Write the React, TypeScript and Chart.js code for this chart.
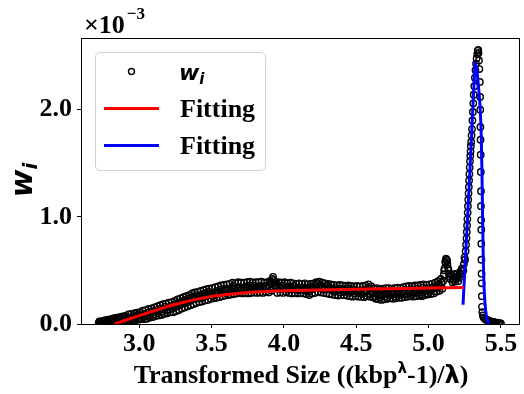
import React, { useEffect, useRef } from "react";
import { Chart, registerables } from "chart.js";

Chart.register(...registerables);

// ---- data (w_i values in units of 1e-3) ----
const bulkX = [
  2.72, 2.73, 2.74, 2.75, 2.76, 2.77, 2.78, 2.79, 2.8, 2.81,
  2.82, 2.83, 2.84, 2.85, 2.86, 2.87, 2.88, 2.89, 2.9, 2.91,
  2.92, 2.93, 2.94, 2.95, 2.96, 2.97, 2.98, 2.99, 3.0, 3.01,
  3.02, 3.03, 3.04, 3.05, 3.06, 3.07, 3.08, 3.09, 3.1, 3.11,
  3.12, 3.13, 3.14, 3.15, 3.16, 3.17, 3.18, 3.19, 3.2, 3.21,
  3.22, 3.23, 3.24, 3.25, 3.26, 3.27, 3.28, 3.29, 3.3, 3.31,
  3.32, 3.33, 3.34, 3.35, 3.36, 3.37, 3.38, 3.39, 3.4, 3.41,
  3.42, 3.43, 3.44, 3.45, 3.46, 3.47, 3.48, 3.49, 3.5, 3.51,
  3.52, 3.53, 3.54, 3.55, 3.56, 3.57, 3.58, 3.59, 3.6, 3.61,
  3.62, 3.63, 3.64, 3.65, 3.66, 3.67, 3.68, 3.69, 3.7, 3.71,
  3.72, 3.73, 3.74, 3.75, 3.76, 3.77, 3.78, 3.79, 3.8, 3.81,
  3.82, 3.83, 3.84, 3.85, 3.86, 3.87, 3.88, 3.89, 3.9, 3.91,
  3.92, 3.93, 3.94, 3.95, 3.96, 3.97, 3.98, 3.99, 4.0, 4.01,
  4.02, 4.03, 4.04, 4.05, 4.06, 4.07, 4.08, 4.09, 4.1, 4.11,
  4.12, 4.13, 4.14, 4.15, 4.16, 4.17, 4.18, 4.19, 4.2, 4.21,
  4.22, 4.23, 4.24, 4.25, 4.26, 4.27, 4.28, 4.29, 4.3, 4.31,
  4.32, 4.33, 4.34, 4.35, 4.36, 4.37, 4.38, 4.39, 4.4, 4.41,
  4.42, 4.43, 4.44, 4.45, 4.46, 4.47, 4.48, 4.49, 4.5, 4.51,
  4.52, 4.53, 4.54, 4.55, 4.56, 4.57, 4.58, 4.59, 4.6, 4.61,
  4.62, 4.63, 4.64, 4.65, 4.66, 4.67, 4.68, 4.69, 4.7, 4.71,
  4.72, 4.73, 4.74, 4.75, 4.76, 4.77, 4.78, 4.79, 4.8, 4.81,
  4.82, 4.83, 4.84, 4.85, 4.86, 4.87, 4.88, 4.89, 4.9, 4.91,
  4.92, 4.93, 4.94, 4.95, 4.96, 4.97, 4.98, 4.99, 5.0, 5.01,
  5.02, 5.03, 5.04, 5.05, 5.06, 5.07, 5.08, 5.09, 5.1,
  5.105, 5.11, 5.115, 5.12, 5.125, 5.13, 5.135, 5.14, 5.145,
  5.15, 5.16, 5.17, 5.18, 5.19, 5.2, 5.21, 5.22, 5.23,
];
const bulkY = [
  0.01, 0.015, 0.005, 0.02, 0.025, 0.012, 0.03, 0.022, 0.035, 0.028,
  0.04, 0.025, 0.045, 0.032, 0.05, 0.03, 0.042, 0.055, 0.035, 0.05,
  0.06, 0.04, 0.065, 0.048, 0.075, 0.052, 0.07, 0.085, 0.055, 0.078,
  0.09, 0.065, 0.095, 0.08, 0.105, 0.075, 0.1, 0.12, 0.09, 0.115,
  0.13, 0.1, 0.125, 0.145, 0.115, 0.14, 0.16, 0.125, 0.155, 0.135,
  0.17, 0.145, 0.18, 0.16, 0.195, 0.17, 0.205, 0.185, 0.215, 0.19,
  0.225, 0.2, 0.24, 0.215, 0.25, 0.23, 0.26, 0.235, 0.27, 0.245,
  0.265, 0.24, 0.28, 0.255, 0.29, 0.265, 0.3, 0.27, 0.285, 0.26,
  0.295, 0.275, 0.31, 0.285, 0.32, 0.295, 0.305, 0.33, 0.29, 0.315,
  0.325, 0.3, 0.34, 0.355, 0.32, 0.31, 0.335, 0.345, 0.315, 0.33,
  0.34, 0.32, 0.35, 0.33, 0.36, 0.325, 0.345, 0.335, 0.355, 0.32,
  0.345, 0.33, 0.355, 0.34, 0.325, 0.35, 0.335, 0.36, 0.34, 0.38,
  0.42, 0.41, 0.36, 0.335, 0.35, 0.325, 0.345, 0.36, 0.33, 0.345,
  0.335, 0.35, 0.32, 0.345, 0.33, 0.355, 0.325, 0.34, 0.315, 0.335,
  0.32, 0.345, 0.33, 0.31, 0.34, 0.3, 0.335, 0.35, 0.325, 0.34,
  0.355, 0.375, 0.34, 0.365, 0.33, 0.35, 0.32, 0.345, 0.36, 0.33,
  0.34, 0.315, 0.325, 0.3, 0.335, 0.31, 0.32, 0.295, 0.33, 0.305,
  0.32, 0.3, 0.335, 0.29, 0.315, 0.305, 0.325, 0.285, 0.31, 0.3,
  0.295, 0.315, 0.28, 0.305, 0.29, 0.32, 0.34, 0.33, 0.275, 0.3,
  0.285, 0.26, 0.3, 0.27, 0.25, 0.29, 0.265, 0.31, 0.255, 0.28,
  0.295, 0.265, 0.305, 0.275, 0.29, 0.255, 0.3, 0.28, 0.31, 0.27,
  0.3, 0.285, 0.32, 0.275, 0.31, 0.29, 0.325, 0.28, 0.315, 0.295,
  0.33, 0.29, 0.315, 0.275, 0.34, 0.3, 0.32, 0.285, 0.335, 0.31,
  0.32, 0.345, 0.305, 0.355, 0.335, 0.37, 0.35, 0.385, 0.4,
  0.46, 0.52, 0.58, 0.61, 0.6, 0.56, 0.52, 0.47, 0.44,
  0.42, 0.45, 0.41, 0.435, 0.42, 0.445, 0.43, 0.47, 0.52,
];
// interleaved samples that show the spread of the band
const spreadX = [
  2.725, 2.735, 2.745, 2.755, 2.765, 2.775, 2.785, 2.795, 2.805, 2.815,
  2.825, 2.835, 2.845, 2.855, 2.865, 2.875, 2.885, 2.895, 2.905, 2.915,
  2.925, 2.935, 2.945, 2.955, 2.965, 2.975, 2.985, 2.995, 3.005, 3.015,
  3.025, 3.035, 3.045, 3.055, 3.065, 3.075, 3.085, 3.095, 3.105, 3.115,
  3.125, 3.135, 3.145, 3.155, 3.165, 3.175, 3.185, 3.195, 3.205, 3.215,
  3.225, 3.235, 3.245, 3.255, 3.265, 3.275, 3.285, 3.295, 3.305, 3.315,
  3.325, 3.335, 3.345, 3.355, 3.365, 3.375, 3.385, 3.395, 3.405, 3.415,
  3.425, 3.435, 3.445, 3.455, 3.465, 3.475, 3.485, 3.495, 3.505, 3.515,
  3.525, 3.535, 3.545, 3.555, 3.565, 3.575, 3.585, 3.595, 3.605, 3.615,
  3.625, 3.635, 3.645, 3.655, 3.665, 3.675, 3.685, 3.695, 3.705, 3.715,
  3.725, 3.735, 3.745, 3.755, 3.765, 3.775, 3.785, 3.795, 3.805, 3.815,
  3.825, 3.835, 3.845, 3.855, 3.865, 3.875, 3.885, 3.895, 3.905, 3.915,
  3.925, 3.935, 3.945, 3.955, 3.965, 3.975, 3.985, 3.995, 4.005, 4.015,
  4.025, 4.035, 4.045, 4.055, 4.065, 4.075, 4.085, 4.095, 4.105, 4.115,
  4.125, 4.135, 4.145, 4.155, 4.165, 4.175, 4.185, 4.195, 4.205, 4.215,
  4.225, 4.235, 4.245, 4.255, 4.265, 4.275, 4.285, 4.295, 4.305, 4.315,
  4.325, 4.335, 4.345, 4.355, 4.365, 4.375, 4.385, 4.395, 4.405, 4.415,
  4.425, 4.435, 4.445, 4.455, 4.465, 4.475, 4.485, 4.495, 4.505, 4.515,
  4.525, 4.535, 4.545, 4.555, 4.565, 4.575, 4.585, 4.595, 4.605, 4.615,
  4.625, 4.635, 4.645, 4.655, 4.665, 4.675, 4.685, 4.695, 4.705, 4.715,
  4.725, 4.735, 4.745, 4.755, 4.765, 4.775, 4.785, 4.795, 4.805, 4.815,
  4.825, 4.835, 4.845, 4.855, 4.865, 4.875, 4.885, 4.895, 4.905, 4.915,
  4.925, 4.935, 4.945, 4.955, 4.965, 4.975, 4.985, 4.995, 5.005, 5.015,
  5.025, 5.035, 5.045, 5.055, 5.065, 5.075, 5.085, 5.095,
  5.108, 5.118, 5.128, 5.138,
  5.155, 5.165, 5.175, 5.185, 5.195, 5.205, 5.215, 5.225,
];
const spreadY = [
  0.025, 0.0, 0.03, 0.005, 0.035, 0.01, 0.04, 0.012, 0.045, 0.015,
  0.055, 0.01, 0.06, 0.015, 0.065, 0.02, 0.07, 0.025, 0.075, 0.02,
  0.09, 0.025, 0.095, 0.03, 0.1, 0.035, 0.105, 0.04, 0.11, 0.045,
  0.125, 0.045, 0.13, 0.05, 0.14, 0.06, 0.145, 0.065, 0.155, 0.075,
  0.165, 0.08, 0.175, 0.085, 0.185, 0.095, 0.19, 0.1, 0.2, 0.11,
  0.205, 0.11, 0.215, 0.12, 0.23, 0.13, 0.24, 0.145, 0.25, 0.155,
  0.26, 0.165, 0.27, 0.175, 0.285, 0.185, 0.295, 0.195, 0.3, 0.205,
  0.31, 0.21, 0.315, 0.22, 0.325, 0.225, 0.33, 0.235, 0.335, 0.24,
  0.345, 0.245, 0.35, 0.25, 0.36, 0.26, 0.365, 0.265, 0.37, 0.27,
  0.375, 0.275, 0.385, 0.28, 0.38, 0.285, 0.39, 0.29, 0.385, 0.285,
  0.385, 0.29, 0.39, 0.285, 0.395, 0.29, 0.385, 0.295, 0.39, 0.29,
  0.39, 0.295, 0.395, 0.29, 0.385, 0.3, 0.39, 0.295, 0.4, 0.31,
  0.44, 0.39, 0.385, 0.29, 0.39, 0.295, 0.385, 0.29, 0.39, 0.3,
  0.38, 0.29, 0.385, 0.285, 0.38, 0.29, 0.375, 0.285, 0.38, 0.29,
  0.375, 0.285, 0.38, 0.28, 0.37, 0.27, 0.375, 0.285, 0.38, 0.29,
  0.39, 0.3, 0.395, 0.295, 0.385, 0.29, 0.38, 0.285, 0.375, 0.28,
  0.37, 0.275, 0.365, 0.27, 0.36, 0.265, 0.365, 0.27, 0.36, 0.27,
  0.355, 0.265, 0.36, 0.26, 0.355, 0.255, 0.35, 0.26, 0.355, 0.255,
  0.35, 0.255, 0.355, 0.25, 0.36, 0.26, 0.37, 0.255, 0.35, 0.25,
  0.33, 0.235, 0.335, 0.23, 0.325, 0.225, 0.33, 0.23, 0.335, 0.235,
  0.335, 0.24, 0.33, 0.235, 0.335, 0.24, 0.34, 0.245, 0.335, 0.245,
  0.345, 0.25, 0.35, 0.255, 0.355, 0.26, 0.35, 0.255, 0.36, 0.26,
  0.36, 0.265, 0.365, 0.26, 0.37, 0.27, 0.365, 0.275, 0.37, 0.28,
  0.375, 0.285, 0.385, 0.3, 0.4, 0.31, 0.42, 0.33,
  0.5, 0.57, 0.59, 0.5,
  0.46, 0.39, 0.465, 0.395, 0.47, 0.4, 0.48, 0.5,
];
const peakX = [
  5.24, 5.244, 5.248, 5.252, 5.256, 5.259, 5.262, 5.264, 5.266, 5.268,
  5.27, 5.272, 5.274, 5.276, 5.278, 5.28, 5.282, 5.284, 5.286, 5.288,
  5.29, 5.292, 5.294, 5.297, 5.3, 5.303, 5.306, 5.309, 5.312, 5.316,
  5.32, 5.324, 5.328, 5.332, 5.336, 5.34, 5.343, 5.345,
  5.348, 5.351, 5.354, 5.356, 5.357, 5.358, 5.359, 5.36, 5.361, 5.362,
  5.362, 5.363, 5.364, 5.364, 5.365, 5.366, 5.367, 5.368, 5.369, 5.371,
  5.375, 5.38, 5.388, 5.396, 5.404, 5.412, 5.42, 5.43, 5.44, 5.45,
  5.46, 5.47, 5.48, 5.49, 5.5,
];
const peakY = [
  0.5, 0.56, 0.62, 0.6, 0.68, 0.74, 0.8, 0.86, 0.92, 0.98,
  1.04, 1.1, 1.16, 1.22, 1.28, 1.34, 1.4, 1.46, 1.52, 1.57,
  1.61, 1.66, 1.7, 1.76, 1.82, 1.9, 1.98, 2.06, 2.14, 2.22,
  2.3, 2.37, 2.43, 2.48, 2.52, 2.55, 2.56, 2.53,
  2.46, 2.38, 2.26, 2.12, 2.0, 1.84, 1.72, 1.58, 1.42, 1.24,
  1.1, 0.97, 0.88, 0.75, 0.6, 0.47, 0.38, 0.26, 0.16, 0.11,
  0.08, 0.06, 0.05, 0.04, 0.04, 0.03, 0.03, 0.025, 0.02, 0.02,
  0.015, 0.01, 0.01, 0.008, 0.005,
];
const redFitX = [2.83, 2.9, 3.0, 3.1, 3.2, 3.3, 3.4, 3.5, 3.6, 3.7, 3.8, 3.9, 4.0, 4.25, 4.5, 4.75, 5.0, 5.243];
const redFitY = [0.0, 0.033, 0.078, 0.122, 0.165, 0.2, 0.232, 0.258, 0.275, 0.288, 0.298, 0.305, 0.31, 0.318, 0.324, 0.33, 0.335, 0.34];
const blueFitX = [5.238, 5.252, 5.265, 5.28, 5.295, 5.308, 5.316, 5.322, 5.335, 5.347, 5.357, 5.364, 5.369, 5.373, 5.378, 5.385, 5.395, 5.405, 5.418];
const blueFitY = [0.18, 0.55, 0.88, 1.28, 1.7, 2.08, 2.3, 2.44, 2.35, 2.18, 2.0, 1.75, 1.4, 1.0, 0.6, 0.3, 0.12, 0.04, 0.0];

const xTickValues = [3.0, 3.5, 4.0, 4.5, 5.0, 5.5];
const yTickValues = [0.0, 1.0, 2.0];
const xRange = [2.598, 5.622];
const yRange = [0, 2.67];
const legendLabels = ["w", "Fitting", "Fitting"];

const SERIF = "'Liberation Serif', 'Times New Roman', serif";
const SANS = "'DejaVu Sans', sans-serif";

const pts = (xs: number[], ys: number[]) => xs.map((x, i) => ({ x, y: ys[i] }));

const decorPlugin = {
  id: "decor",
  afterDraw(chart: any) {
    const { ctx, chartArea: ca } = chart;
    ctx.save();
    // frame
    ctx.strokeStyle = "#000";
    ctx.lineWidth = 1;
    ctx.strokeRect(Math.round(ca.left) + 0.5, Math.round(ca.top) + 0.5, Math.round(ca.right - ca.left), Math.round(ca.bottom - ca.top));

    // x10^-3 multiplier
    ctx.fillStyle = "#000";
    ctx.textBaseline = "alphabetic";
    ctx.textAlign = "left";
    ctx.font = `bold 26px ${SERIF}`;
    ctx.fillText("×10", 84, 33);
    const w10 = ctx.measureText("×10").width;
    ctx.font = `bold 17px ${SERIF}`;
    ctx.fillText("−3", 84 + w10 + 2, 19);

    // legend box
    const lx = 95.5, ly = 52.5, lw = 170, lh = 118, r = 5;
    ctx.beginPath();
    ctx.moveTo(lx + r, ly);
    ctx.lineTo(lx + lw - r, ly);
    ctx.quadraticCurveTo(lx + lw, ly, lx + lw, ly + r);
    ctx.lineTo(lx + lw, ly + lh - r);
    ctx.quadraticCurveTo(lx + lw, ly + lh, lx + lw - r, ly + lh);
    ctx.lineTo(lx + r, ly + lh);
    ctx.quadraticCurveTo(lx, ly + lh, lx, ly + lh - r);
    ctx.lineTo(lx, ly + r);
    ctx.quadraticCurveTo(lx, ly, lx + r, ly);
    ctx.closePath();
    ctx.fillStyle = "rgba(255,255,255,0.85)";
    ctx.fill();
    ctx.strokeStyle = "#d0d0d0";
    ctx.lineWidth = 1;
    ctx.stroke();

    // legend entry 1: circle marker + w_i
    ctx.beginPath();
    ctx.arc(131.5, 71.5, 3, 0, Math.PI * 2);
    ctx.strokeStyle = "#000";
    ctx.lineWidth = 1.4;
    ctx.stroke();
    ctx.fillStyle = "#000";
    ctx.font = `bold italic 22px ${SANS}`;
    ctx.fillText(legendLabels[0], 179, 80);
    const ww = ctx.measureText(legendLabels[0]).width;
    ctx.font = `bold italic 15px ${SANS}`;
    ctx.fillText("i", 179 + ww, 84);

    // legend entry 2 / 3: lines + Fitting
    ctx.lineWidth = 3;
    ctx.strokeStyle = "#ff0000";
    ctx.beginPath();
    ctx.moveTo(104, 108.5);
    ctx.lineTo(159, 108.5);
    ctx.stroke();
    ctx.strokeStyle = "#0000ff";
    ctx.beginPath();
    ctx.moveTo(104, 145.5);
    ctx.lineTo(159, 145.5);
    ctx.stroke();
    ctx.fillStyle = "#000";
    ctx.font = `bold 26px ${SERIF}`;
    ctx.fillText(legendLabels[1], 180, 117);
    ctx.fillText(legendLabels[2], 180, 154);

    // y-axis label w_i (rotated)
    ctx.save();
    ctx.translate(32, 180);
    ctx.rotate(-Math.PI / 2);
    ctx.font = `bold italic 30px ${SANS}`;
    const wy = ctx.measureText("w").width;
    ctx.font = `bold italic 20px ${SANS}`;
    const wi = ctx.measureText("i").width;
    const total = wy + wi;
    ctx.font = `bold italic 30px ${SANS}`;
    ctx.fillText("w", -total / 2, 0);
    ctx.font = `bold italic 20px ${SANS}`;
    ctx.fillText("i", -total / 2 + wy, 5);
    ctx.restore();

    // x-axis label
    const parts: [string, string, number][] = [
      ["Transformed Size ((kbp", `bold 26px ${SERIF}`, 0],
      ["λ", `bold 15px ${SANS}`, -10],
      ["-1)/", `bold 26px ${SERIF}`, 0],
      ["λ", `bold 24px ${SANS}`, 0],
      [")", `bold 26px ${SERIF}`, 0],
    ];
    let tw = 0;
    for (const [t, f] of parts) {
      ctx.font = f;
      tw += ctx.measureText(t).width;
    }
    let cx = 301 - tw / 2;
    for (const [t, f, dy] of parts) {
      ctx.font = f;
      ctx.fillText(t, cx, 383 + dy);
      cx += ctx.measureText(t).width;
    }
    ctx.restore();
  },
};

export default function App() {
  const ref = useRef<HTMLCanvasElement | null>(null);
  useEffect(() => {
    if (!ref.current) return;
    const tickFont = { family: SERIF, size: 26, weight: "bold" as const };
    const chart = new Chart(ref.current, {
      type: "scatter",
      data: {
        datasets: [
          {
            type: "line",
            label: "Fitting",
            data: pts(redFitX, redFitY),
            borderColor: "#ff0000",
            borderWidth: 3,
            pointRadius: 0,
            fill: false,
            cubicInterpolationMode: "monotone",
            order: 0,
          } as any,
          {
            type: "line",
            label: "Fitting",
            data: pts(blueFitX, blueFitY),
            borderColor: "#0000ff",
            borderWidth: 3,
            pointRadius: 0,
            fill: false,
            cubicInterpolationMode: "monotone",
            order: 1,
          } as any,
          {
            type: "scatter",
            label: "w_i",
            data: [...pts(bulkX, bulkY), ...pts(spreadX, spreadY), ...pts(peakX, peakY)],
            pointStyle: "circle",
            pointRadius: 3.2,
            pointBorderWidth: 1.4,
            pointBorderColor: "#000",
            pointBackgroundColor: "rgba(0,0,0,0)",
            order: 2,
          } as any,
        ],
      },
      options: {
        responsive: false,
        animation: false,
        layout: { padding: { top: 38, right: 4, left: 0, bottom: 0 } },
        plugins: { legend: { display: false }, tooltip: { enabled: false } },
        scales: {
          x: {
            type: "linear",
            min: xRange[0],
            max: xRange[1],
            afterBuildTicks: (s: any) => {
              s.ticks = xTickValues.map((v) => ({ value: v }));
            },
            afterFit: (s: any) => {
              s.height = 70;
            },
            ticks: {
              font: tickFont,
              color: "#000",
              padding: 1,
              maxRotation: 0,
              autoSkip: false,
              callback: (v: any) => Number(v).toFixed(1),
            },
            grid: { drawOnChartArea: false, drawTicks: true, tickLength: 4, color: "#000" },
            border: { display: false },
          },
          y: {
            type: "linear",
            min: yRange[0],
            max: yRange[1],
            afterBuildTicks: (s: any) => {
              s.ticks = yTickValues.map((v) => ({ value: v }));
            },
            afterFit: (s: any) => {
              s.width = 81;
            },
            ticks: {
              font: tickFont,
              color: "#000",
              padding: 5,
              autoSkip: false,
              callback: (v: any) => Number(v).toFixed(1),
            },
            grid: { drawOnChartArea: false, drawTicks: true, tickLength: 4, color: "#000" },
            border: { display: false },
          },
        },
      },
      plugins: [decorPlugin],
    });
    return () => chart.destroy();
  }, []);
  return (
    <div style={{ position: "absolute", left: 0, top: 0, width: 524, height: 394, background: "#fff" }}>
      <canvas ref={ref} width={524} height={394} style={{ width: 524, height: 394, display: "block" }} />
    </div>
  );
}
